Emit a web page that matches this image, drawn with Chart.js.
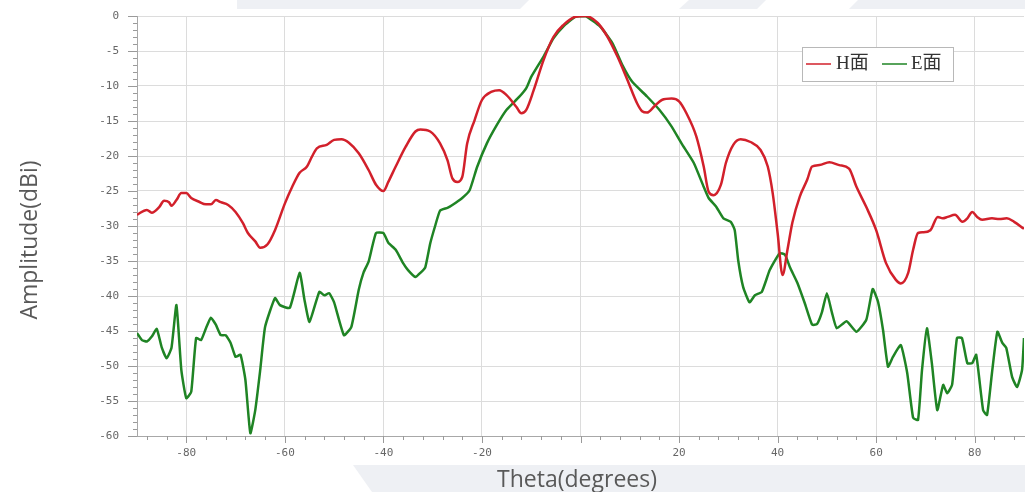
<!DOCTYPE html>
<html>
<head>
<meta charset="utf-8">
<title>Antenna pattern</title>
<script src="https://cdn.jsdelivr.net/npm/chart.js@4.4.1/dist/chart.umd.min.js"></script>
<style>
  html, body { margin: 0; padding: 0; background: #fff; }
  #wrap { width: 1025px; height: 492px; }
</style>
</head>
<body>
<div id="wrap"><canvas id="patternChart" width="1025" height="492"></canvas></div>
<script>
// H-plane cut (theta in degrees, amplitude in dBi)
const thetaH = [-90, -88, -87, -85.5, -84.5, -83.5, -83, -82, -81, -80, -79, -77.5, -76, -75, -74, -73, -71.5, -70,
  -68.5, -67.5, -66, -65, -63.5, -62, -60, -58.5, -57, -55.5, -54.5, -53.5, -51.5, -50, -48.5, -47, -45, -43, -41.5,
  -40, -39, -37.5, -35.5, -33.5, -32.5, -30.5, -28.5, -27, -26, -25, -24, -23, -21.5, -20, -18, -16.5, -15, -13, -12,
  -11, -9.5, -7.5, -5.5, -3.5, -1, 1, 3.5, 5.5, 7.5, 9.5, 11.5, 12.5, 13.5, 15, 16.5, 18.5, 20, 21.5, 23.5, 25, 26,
  27, 28.5, 29.5, 31, 32.5, 34.5, 36.5, 38, 39, 40, 41, 42, 43, 44.5, 46, 47, 48.5, 50.5, 52.5, 54.5, 56, 58, 60, 62,
  64, 65, 66.5, 67.5, 68.5, 69.5, 71, 72.5, 73.5, 74.5, 76, 77.5, 78.5, 79.5, 80.5, 81.5, 83.5, 85, 86.5, 88, 90];
const ampH = [-28.4, -27.7, -28.1, -27.3, -26.4, -26.6, -27.1, -26.3, -25.3, -25.3, -26.0, -26.5, -26.9, -26.9, -26.3,
  -26.6, -27.0, -28.0, -29.6, -31.0, -32.2, -33.1, -32.6, -30.6, -26.8, -24.4, -22.4, -21.5, -20.1, -18.9, -18.4,
  -17.7, -17.6, -18.1, -19.6, -22.0, -24.1, -25.0, -23.7, -21.5, -18.7, -16.5, -16.2, -16.5, -18.2, -20.6, -23.2,
  -23.7, -23.0, -18.2, -14.9, -12.0, -10.8, -10.6, -11.3, -13.0, -13.9, -13.4, -10.6, -6.3, -3.0, -1.3, -0.1, 0,
  -1.0, -3.0, -5.8, -9.1, -12.5, -13.6, -13.8, -12.9, -12.0, -11.8, -12.2, -13.9, -17.2, -21.5, -25.1, -25.6, -24.1,
  -21.0, -18.4, -17.6, -18.0, -19.1, -21.5, -25.3, -31.0, -37.0, -33.4, -29.5, -25.8, -23.4, -21.5, -21.3, -20.9,
  -21.3, -21.8, -24.4, -27.3, -30.6, -35.3, -37.7, -38.2, -36.7, -33.4, -31.0, -30.9, -30.6, -28.7, -28.9, -28.7,
  -28.4, -29.4, -28.9, -28.0, -28.7, -29.1, -28.9, -29.0, -28.9, -29.4, -30.4];

// E-plane cut
const thetaE = [-90, -89, -88, -87, -86, -85, -84, -83, -82, -81, -80, -79, -78, -77, -76, -75, -74, -73, -72, -71,
  -70, -69, -68, -67, -66, -65, -64, -62, -61, -59, -57, -56, -55, -53, -52, -51, -50, -48, -46.5, -45, -44, -43,
  -41.5, -40, -39, -37.5, -36, -35, -33.5, -32.5, -31.5, -30.5, -29.5, -28.5, -27, -26, -24, -22.5, -21, -19, -17,
  -15, -12.5, -11, -10, -7.5, -5.5, -3.5, -1, 1, 4, 6.5, 8.5, 10.5, 13.5, 16, 18.5, 20.5, 23, 25, 26, 27.5, 29, 30.5,
  31.3, 32, 33, 34.3, 35.4, 36.8, 38.4, 40.4, 41.5, 42.5, 44, 45.5, 47, 48, 49, 50, 51, 52, 54, 56, 58, 59.3, 60.4,
  61.4, 62.4, 63.4, 65, 66.3, 67.5, 68.5, 69.3, 70.3, 71.3, 72.4, 73.6, 74.4, 75.4, 76.4, 77.4, 78.5, 79.5, 80.3,
  81.7, 82.5, 83.5, 84.6, 85.6, 86.4, 87.6, 88.6, 89.6, 90];
const ampE = [-45.3, -46.3, -46.5, -45.8, -44.7, -47.3, -48.9, -47.4, -41.3, -50.6, -54.6, -53.7, -46.0, -46.3, -44.6,
  -43.1, -44.1, -45.6, -45.6, -46.7, -48.7, -48.4, -52.0, -59.6, -56.3, -50.6, -44.4, -40.3, -41.3, -41.7, -36.7,
  -40.6, -43.7, -39.4, -39.9, -39.6, -40.9, -45.6, -44.4, -39.1, -36.6, -35.1, -31.0, -31.0, -32.4, -33.4, -35.3,
  -36.3, -37.3, -36.7, -35.9, -32.5, -30.0, -27.8, -27.4, -27.0, -26.0, -24.9, -21.6, -18.2, -15.6, -13.4, -11.6,
  -10.3, -8.7, -5.8, -3.2, -1.5, -0.1, 0, -1.5, -3.9, -7.0, -9.4, -11.5, -13.4, -15.8, -18.2, -21.0, -24.4, -26.0,
  -27.2, -28.9, -29.4, -30.6, -34.9, -38.7, -40.9, -39.9, -39.4, -36.3, -33.9, -34.1, -35.9, -38.1, -41.0, -44.1,
  -44.0, -42.3, -39.6, -42.3, -44.6, -43.6, -45.1, -43.4, -39.0, -40.9, -44.9, -50.1, -48.7, -47.0, -51.0, -57.4,
  -57.7, -50.6, -44.6, -49.6, -56.3, -52.7, -53.9, -52.7, -46.0, -46.0, -49.6, -49.6, -48.4, -56.3, -57.0, -51.0,
  -45.1, -46.7, -47.4, -51.6, -53.0, -50.6, -46.0];

const seriesNames = ['H面', 'E面'];
const xTickValues = [-80, -60, -40, -20, 0, 20, 40, 60, 80];
const xLabelValues = [-80, -60, -40, -20, 20, 40, 60, 80]; // the original leaves 0 unlabelled
const xTitle = 'Theta(degrees)';
const yTitle = 'Amplitude(dBi)';

const toPoints = (xs, ys) => xs.map((x, i) => ({ x: x, y: ys[i] }));

// slide decoration behind the chart (light grey bands)
const backdrop = {
  id: 'backdrop',
  beforeDraw(chart) {
    const ctx = chart.ctx;
    ctx.save();
    ctx.fillStyle = '#fff';
    ctx.fillRect(0, 0, chart.width, chart.height);
    ctx.fillStyle = '#eef0f4';
    const shapes = [
      [[237, 0], [529, 0], [520, 9], [237, 9]],
      [[689, 0], [766, 0], [757, 9], [679, 9]],
      [[858, 0], [1025, 0], [1025, 9], [849, 9]],
      [[353, 465], [1025, 465], [1025, 492], [372, 492]]
    ];
    shapes.forEach(s => {
      ctx.beginPath();
      ctx.moveTo(s[0][0], s[0][1]);
      s.slice(1).forEach(p => ctx.lineTo(p[0], p[1]));
      ctx.closePath();
      ctx.fill();
    });
    ctx.restore();
  }
};

// major + minor tick marks along both axes
const tickMarks = {
  id: 'tickMarks',
  afterDraw(chart) {
    const { ctx, chartArea } = chart;
    const xs = chart.scales.x, ys = chart.scales.y;
    ctx.save();
    ctx.strokeStyle = '#9a9a9a';
    ctx.lineWidth = 1;
    ctx.beginPath();
    for (let v = -88; v <= 88; v += 4) {
      const px = Math.round(xs.getPixelForValue(v)) + 0.5;
      const len = v % 20 === 0 ? 7 : 4;
      ctx.moveTo(px, chartArea.bottom);
      ctx.lineTo(px, chartArea.bottom + len);
    }
    for (let v = -60; v <= 0; v += 1) {
      const py = Math.round(ys.getPixelForValue(v)) + 0.5;
      const len = v % 5 === 0 ? 9 : 4;
      ctx.moveTo(chartArea.left - len, py);
      ctx.lineTo(chartArea.left, py);
    }
    ctx.stroke();
    ctx.restore();
  }
};

const axisTitles = {
  id: 'axisTitles',
  afterDraw(chart) {
    const ctx = chart.ctx;
    ctx.save();
    ctx.fillStyle = '#595959';
    ctx.font = '23px "Open Sans"';
    ctx.textAlign = 'center';
    ctx.textBaseline = 'middle';
    ctx.fillText(xTitle, 577, 480);
    ctx.translate(30, 240);
    ctx.rotate(-Math.PI / 2);
    ctx.fillText(yTitle, 0, 0);
    ctx.restore();
  }
};

const boxLegend = {
  id: 'boxLegend',
  afterDraw(chart) {
    const ctx = chart.ctx;
    const sets = chart.data.datasets;
    ctx.save();
    ctx.fillStyle = '#fff';
    ctx.fillRect(802, 47, 151, 34);
    ctx.strokeStyle = '#b8b8b8';
    ctx.lineWidth = 1;
    ctx.strokeRect(802.5, 47.5, 151, 34);
    ctx.font = '19px "Liberation Serif", "Noto Sans CJK SC"';
    ctx.textBaseline = 'middle';
    const lineX = [806, 882];
    const textX = [836, 911];
    sets.forEach((ds, i) => {
      ctx.strokeStyle = ds.borderColor;
      ctx.lineWidth = 1.5;
      ctx.beginPath();
      ctx.moveTo(lineX[i], 64);
      ctx.lineTo(lineX[i] + 25, 64);
      ctx.stroke();
      ctx.fillStyle = '#333';
      ctx.fillText(ds.label, textX[i], 64);
    });
    ctx.restore();
  }
};

const tickFont = { family: 'DejaVu Sans Mono', size: 11 };

new Chart(document.getElementById('patternChart'), {
  type: 'line',
  data: {
    datasets: [{
      label: seriesNames[0],
      data: toPoints(thetaH, ampH),
      borderColor: '#d2202b',
      borderWidth: 2.5,
      pointRadius: 0,
      cubicInterpolationMode: 'monotone'
    }, {
      label: seriesNames[1],
      data: toPoints(thetaE, ampE),
      borderColor: '#1f8424',
      borderWidth: 2.5,
      pointRadius: 0,
      tension: 0.15
    }]
  },
  options: {
    responsive: false,
    animation: false,
    devicePixelRatio: 1,
    layout: { padding: { top: 16, right: 1, bottom: 0, left: 0 } },
    plugins: {
      legend: { display: false },
      tooltip: { enabled: false }
    },
    scales: {
      x: {
        type: 'linear',
        min: -90,
        max: 90,
        afterBuildTicks(scale) { scale.ticks = xTickValues.map(v => ({ value: v })); },
        afterFit(scale) { scale.height = 56; },
        border: { color: '#a8a8a8' },
        grid: { color: '#dcdcdc', drawTicks: false },
        ticks: {
          autoSkip: false,
          maxRotation: 0,
          padding: 11,
          color: '#666',
          font: tickFont,
          callback: v => xLabelValues.includes(v) ? String(v) : ''
        }
      },
      y: {
        min: -60,
        max: 0,
        afterFit(scale) {
          scale.width = 137;
          // label padding should not push the plot down
          scale.paddingTop = 0;
          scale.paddingBottom = 0;
        },
        border: { color: '#a8a8a8' },
        grid: { color: '#dcdcdc', drawTicks: false },
        ticks: {
          stepSize: 5,
          padding: 18,
          color: '#666',
          font: tickFont
        }
      }
    }
  },
  plugins: [backdrop, tickMarks, axisTitles, boxLegend]
});
</script>
</body>
</html>
